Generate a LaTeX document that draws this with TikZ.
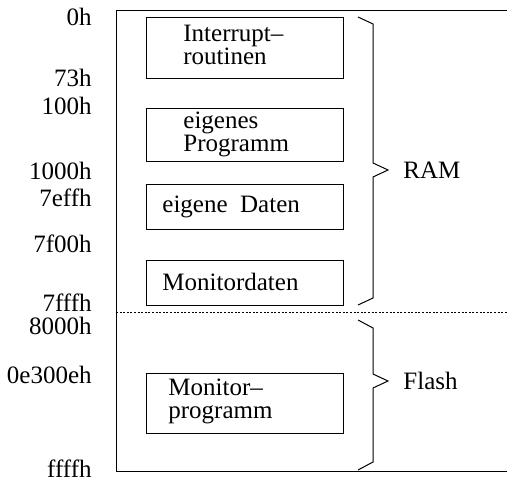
\documentclass[tikz,border=0pt]{standalone}
\usepackage{fontspec}
\setmainfont{Liberation Serif}
\usetikzlibrary{positioning}

\begin{document}
\begin{tikzpicture}[x=0.5pt, y=-0.5pt,
    memblock/.style={draw, line width=0.5pt, minimum width=98.5pt, inner sep=0pt, anchor=north west},
    blocktext/.style={anchor=west, align=left, inner sep=0pt, font=\fontsize{12.5}{11.5}\selectfont},
    addr/.style={anchor=east, inner sep=0pt, text height=8.5pt, text depth=0pt, font=\fontsize{12.5}{14}\selectfont},
    region/.style={anchor=west, inner sep=0pt, font=\fontsize{12.5}{14}\selectfont},
    rand/.style={line width=0.5pt}]
    \useasboundingbox (0,0) rectangle (507,480);

    % Speicher
    \draw[rand] (507,11) -- (116,11) -- (116,471) -- (507,471);
    \draw[line width=0.5pt, dash pattern=on 1pt off 0.8pt] (116,312) -- (507,312);

    % Bloecke
    \node[memblock, minimum height=30.5pt] (intr) at (145.5,17) {};
    \node[memblock, minimum height=26.5pt] (prog) at (145.5,108) {};
    \node[memblock, minimum height=22.5pt] (daten) at (145.5,184) {};
    \node[memblock, minimum height=22.5pt] (mdaten) at (145.5,260) {};
    \node[memblock, minimum height=30pt] (mprog) at (145.5,373) {};

    \node[blocktext] (intrtxt) at (183,45) {Interrupt--\\routinen};
    \node[blocktext] (progtxt) at (183,134) {eigenes\\Programm};
    \node[blocktext] (datentxt) at (162,207) {eigene\ \ Daten};
    \node[blocktext] (mdatentxt) at (162,282) {Monitordaten};
    \node[blocktext] (mprogtxt) at (168,401) {Monitor--\\programm};

    % Adressen
    \node[addr] (a0) at (92,17.5) {0h};
    \node[addr] (a73) at (92,78) {73h};
    \node[addr] (a100) at (92,106) {100h};
    \node[addr] (a1000) at (92,171) {1000h};
    \node[addr] (a7eff) at (92,198.5) {7effh};
    \node[addr] (a7f00) at (92,243.5) {7f00h};
    \node[addr] (a7fff) at (92,303) {7fffh};
    \node[addr] (a8000) at (92,325.5) {8000h};
    \node[addr] (ae300) at (92,374.5) {0e300eh};
    \node[addr] (affff) at (92,468.5) {ffffh};

    % Klammern
    \draw[rand] (358,17) -- (373,24) -- (373,163) -- (388,170) -- (373,177) -- (373,298) -- (358,305);
    \draw[rand] (358,320) -- (373,328) -- (373,374) -- (388,381) -- (373,388) -- (373,462) -- (358,470);
    \node[region] (ram) at (403,170) {RAM};
    \node[region] (flash) at (403,381) {Flash};
\end{tikzpicture}
\end{document}
